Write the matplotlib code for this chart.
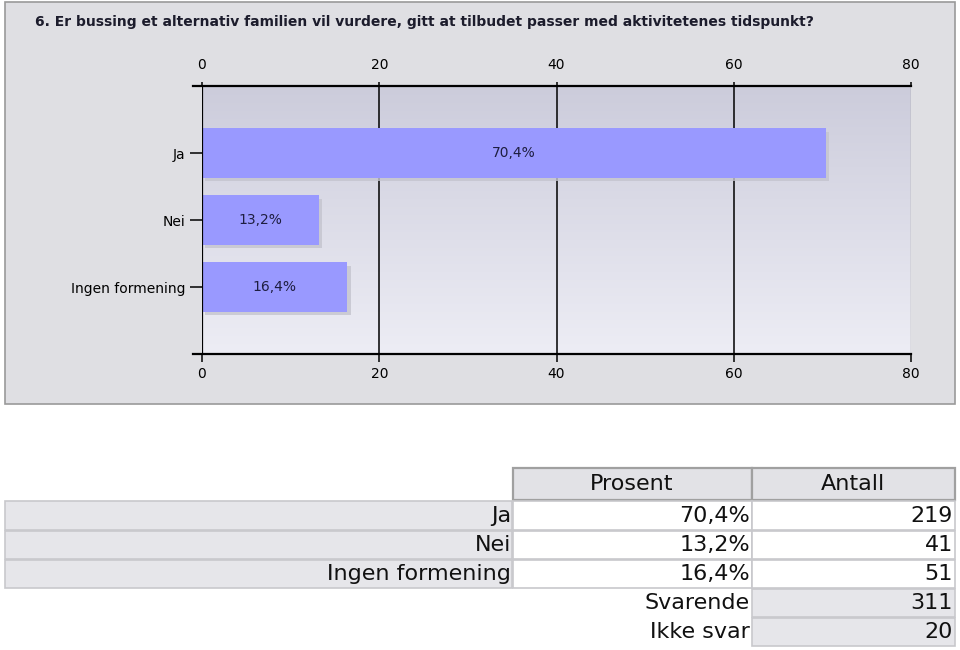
import numpy as np
import matplotlib
matplotlib.use("Agg")
import matplotlib.pyplot as plt
from matplotlib.patches import Rectangle
from matplotlib.lines import Line2D
import matplotlib.patheffects as pe

tittel = "6. Er bussing et alternativ familien vil vurdere, gitt at tilbudet passer med aktivitetenes tidspunkt?"
kategorier = ["Ja", "Nei", "Ingen formening"]
prosent = [70.4, 13.2, 16.4]
antall = [219, 41, 51]
svarende = 311
ikke_svar = 20
xticks = [0, 20, 40, 60, 80]

W, H = 960, 650
fig = plt.figure(figsize=(9.6, 6.5), dpi=100)
fig.patch.set_facecolor("white")


def boks(x0, y0, x1, y1, fc, ec, lw=1.0, z=-5):
    r = Rectangle((x0 / W, 1 - y1 / H), (x1 - x0) / W, (y1 - y0) / H,
                  transform=fig.transFigure, facecolor=fc, edgecolor=ec,
                  linewidth=lw, zorder=z)
    fig.add_artist(r)


def tekst(x, y, s, ha="right", size=16, **kw):
    fig.text(x / W, 1 - y / H, s, ha=ha, va="center", fontsize=size,
             fontfamily="DejaVu Sans", color="#111111", **kw)


def pst(v):
    return f"{v:.1f}%".replace(".", ",")


# panel behind the chart
boks(5, 2, 955, 404, "#dfdfe3", "#9a9a9a", lw=1.2, z=-10)
fig.text(35 / W, 1 - 22 / H, tittel, ha="left", va="center", fontsize=10,
         fontweight="bold", color="#1c1c2c")

# chart axes
ax = fig.add_axes([202 / W, 1 - 354 / H, 709 / W, 268 / H])
ax.set_facecolor("none")
grad = np.linspace(0, 1, 200)[:, None]
top = np.array([0.80, 0.80, 0.86])
bot = np.array([0.93, 0.93, 0.96])
img = top + (bot - top) * grad[:, :, None]
ax.imshow(img, extent=[0, 1, 0, 1], transform=ax.transAxes, aspect="auto",
          origin="upper", zorder=0)

y = np.arange(len(kategorier))
bars = ax.barh(y, prosent, height=0.74, color="#9999ff", zorder=3)
for b in bars:
    b.set_path_effects([pe.SimplePatchShadow(offset=(2.5, -2.5),
                                             shadow_rgbFace="#c4c4ce", alpha=0.8),
                        pe.Normal()])
for i, p in enumerate(prosent):
    ax.text(p / 2, i, pst(p), ha="center", va="center", fontsize=10,
            color="#1e1e40", zorder=4)

for xv in xticks[1:-1]:
    ax.axvline(xv, color="black", lw=1.1, zorder=2)
ax.axvline(0, color="black", lw=1.6, zorder=5)
ax.axvline(80, color="#9a9a9a", lw=1.0, zorder=2)

ax.set_xlim(0, 80)
ax.set_ylim(3, -1)
for s in ax.spines.values():
    s.set_visible(False)

for yy in (0, 1):
    ax.add_line(Line2D([-9 / 709, 1], [yy, yy], transform=ax.transAxes,
                       color="black", lw=1.6, clip_on=False, zorder=6))

ax.set_yticks(y)
ax.set_yticklabels(kategorier)
ax.tick_params(axis="y", length=9, width=1.1, pad=3, labelsize=10,
               colors="black")
ax.set_xticks(xticks)
ax.tick_params(axis="x", length=6, width=1.1, pad=3, labelsize=10,
               colors="black")
sec = ax.secondary_xaxis("top")
sec.set_xticks(xticks)
sec.tick_params(axis="x", length=3, width=1.1, pad=7, labelsize=10)
for s in sec.spines.values():
    s.set_visible(False)

# table below
lys = "#c8c8cc"
boks(513, 468, 752, 500, "#e2e2e6", "#a0a0a0", lw=1.6)
boks(752, 468, 955, 500, "#e2e2e6", "#a0a0a0", lw=1.6)
tekst(632, 484, "Prosent", ha="center")
tekst(853, 484, "Antall", ha="center")

rader = [(501, 530), (531, 559), (560, 588)]
for (y0, y1), kat, p, n in zip(rader, kategorier, prosent, antall):
    boks(5, y0, 512, y1, "#e6e6ea", lys, lw=1.2)
    boks(513, y0, 752, y1, "white", lys, lw=1.2)
    boks(752, y0, 955, y1, "white", lys, lw=1.2)
    ym = (y0 + y1) / 2
    tekst(511, ym, kat)
    tekst(750, ym, pst(p))
    tekst(953, ym, str(n))

for (y0, y1), lab, n in zip([(589, 617), (618, 646)], ["Svarende", "Ikke svar"],
                            [svarende, ikke_svar]):
    boks(752, y0, 955, y1, "#e6e6ea", lys, lw=1.2)
    ym = (y0 + y1) / 2
    tekst(750, ym, lab)
    tekst(953, ym, str(n))

fig.savefig("out.png", dpi=100)
